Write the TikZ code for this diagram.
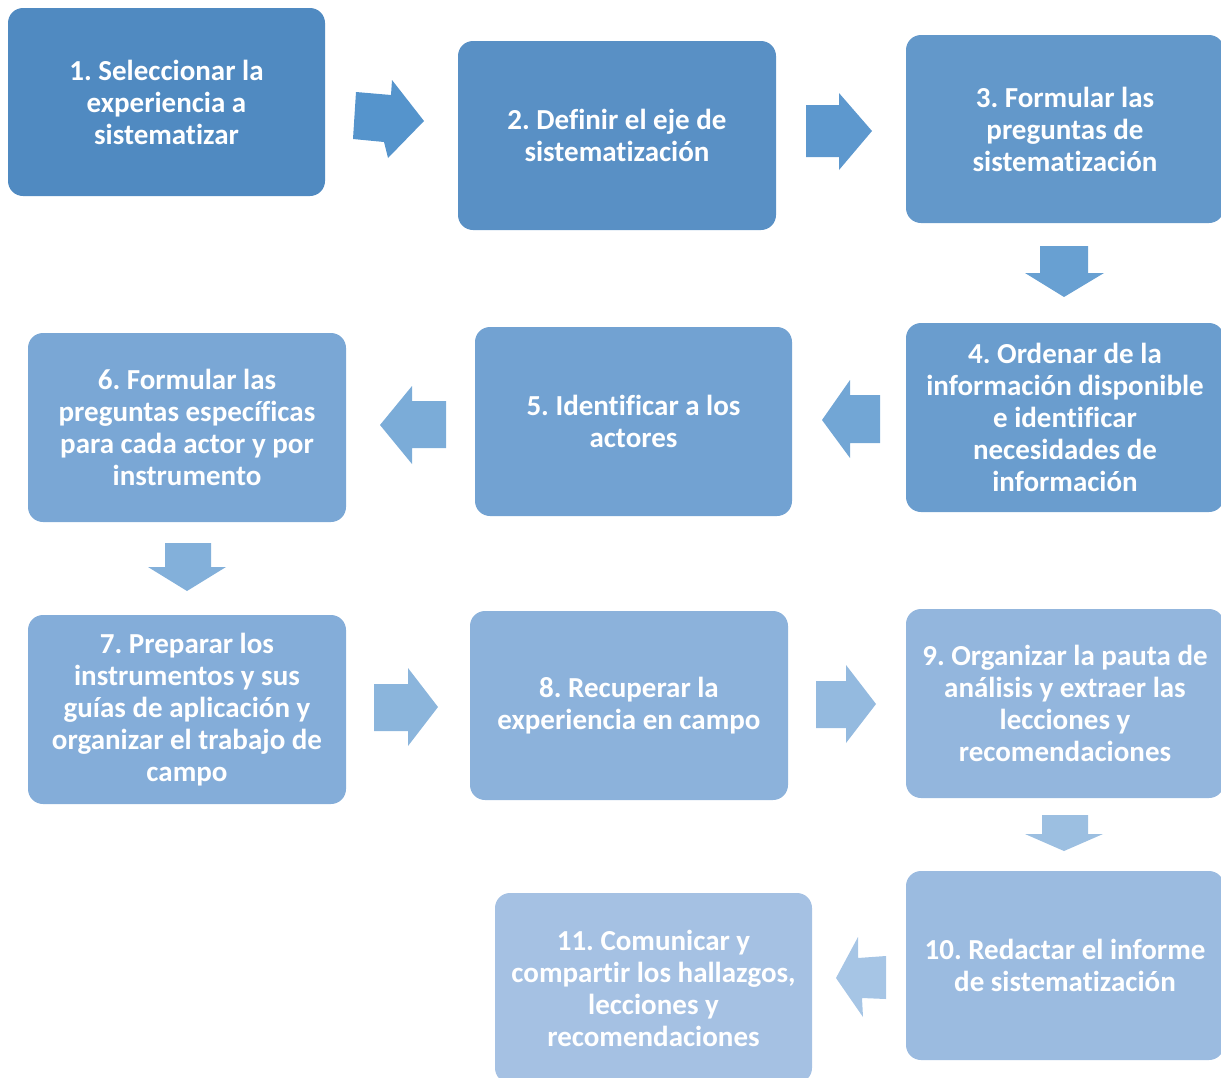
\documentclass[tikz,border=0pt]{standalone}
\usepackage{fontspec}
\setmainfont[Ligatures={NoCommon}]{Carlito}
\frenchspacing
\definecolor{b1}{HTML}{508AC1}
\definecolor{b2}{HTML}{5990C5}
\definecolor{b3}{HTML}{6398CA}
\definecolor{b4}{HTML}{6A9DCE}
\definecolor{b5}{HTML}{72A2D2}
\definecolor{b6}{HTML}{7AA7D5}
\definecolor{b7}{HTML}{84ADD9}
\definecolor{b8}{HTML}{8CB2DB}
\definecolor{b9}{HTML}{93B6DD}
\definecolor{b10}{HTML}{9BBBE0}
\definecolor{b11}{HTML}{A5C1E3}
\definecolor{a1}{HTML}{5594CC}
\definecolor{a2}{HTML}{5D98CE}
\definecolor{a3}{HTML}{68A0D2}
\definecolor{a4}{HTML}{72A6D5}
\definecolor{a5}{HTML}{7BACD8}
\definecolor{a6}{HTML}{83B0DA}
\definecolor{a7}{HTML}{8BB5DC}
\definecolor{a8}{HTML}{94BADF}
\definecolor{a9}{HTML}{9CBFE1}
\definecolor{a10}{HTML}{A6C5E5}
\tikzset{
  stepbox/.style={rounded corners=15pt, inner sep=0pt, text=white,
    font=\fontsize{29}{32}\selectfont\bfseries\frenchspacing, align=center},
}
\newcommand{\boxat}[7]{% name, x1,y1,x2,y2,color,text
  \fill[#6, rounded corners=15pt] (#2,#3) rectangle (#4,#5);
  \node[stepbox] (#1) at ({(#2+#4)/2},{(#3+#5)/2}) {#7};
}
\begin{document}
\begin{tikzpicture}[x=1pt,y=-1pt]
\useasboundingbox (0,0) rectangle (1221,1077);
\boxat{s1}{8}{8}{325}{196}{b1}{1. Seleccionar la\\experiencia a\\sistematizar}
\boxat{s2}{458}{41}{776}{230}{b2}{2. Definir el eje de\\sistematización}
\boxat{s3}{906}{35}{1224}{223}{b3}{3. Formular las\\preguntas de\\sistematización}
\boxat{s4}{906}{323}{1224}{512}{b4}{4. Ordenar de la\\información disponible\\e identificar\\necesidades de\\información}
\boxat{s5}{475}{327}{792}{516}{b5}{5. Identificar a los\\actores}
\boxat{s6}{28}{333}{346}{522}{b6}{6. Formular las\\preguntas específicas\\para cada actor y por\\instrumento}
\boxat{s7}{28}{615}{346}{804}{b7}{7. Preparar los\\instrumentos y sus\\guías de aplicación y\\organizar el trabajo de\\campo}
\boxat{s8}{470}{611}{788}{800}{b8}{8. Recuperar la\\experiencia en campo}
\boxat{s9}{906}{609}{1224}{798}{b9}{9. Organizar la pauta de\\análisis y extraer las\\lecciones y\\recomendaciones}
\boxat{s10}{906}{871}{1224}{1060}{b10}{10. Redactar el informe\\de sistematización}
\boxat{s11}{495}{893}{812}{1083}{b11}{11. Comunicar y\\compartir los hallazgos,\\lecciones y\\recomendaciones}
% block arrows
\fill[a1] (356,92) -- (391,95) -- (392,80) -- (424,121) -- (388,158) -- (384,142) -- (353,139) -- cycle;
\fill[a2] (806,105) -- (839,105) -- (839,93) -- (872,131) -- (839,170) -- (839,157) -- (806,157) -- cycle;
\fill[a3] (1040,246) -- (1088,246) -- (1088,273) -- (1104,273) -- (1064,297) -- (1025,273) -- (1040,273) -- cycle;
\fill[a4] (880,395) -- (850,395) -- (850,380) -- (822,420) -- (850,458) -- (850,443) -- (880,443) -- cycle;
\fill[a5] (446,401) -- (412,401) -- (412,386) -- (380,425) -- (412,464) -- (412,448) -- (446,448) -- cycle;
\fill[a6] (165,543) -- (211,543) -- (211,567) -- (226,567) -- (187,591) -- (148,567) -- (165,567) -- cycle;
\fill[a7] (374,684) -- (408,684) -- (408,668) -- (438,707) -- (408,746) -- (408,731) -- (374,731) -- cycle;
\fill[a8] (816,681) -- (846,681) -- (846,665) -- (876,704) -- (846,743) -- (846,728) -- (816,728) -- cycle;
\fill[a9] (1042,815) -- (1088,815) -- (1088,834) -- (1103,834) -- (1064,851) -- (1025,834) -- (1042,834) -- cycle;
\fill[a10] (886,956) -- (886,999) -- (862,998) -- (863,1017) -- (836,978) -- (858,937) -- (858,958) -- cycle;
\end{tikzpicture}
\end{document}
